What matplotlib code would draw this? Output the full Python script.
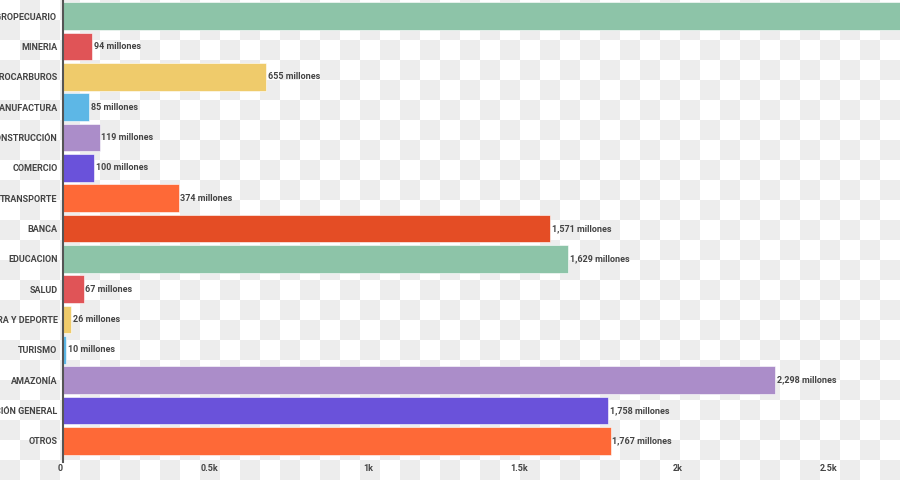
import numpy as np
import matplotlib
matplotlib.use("Agg")
import matplotlib.pyplot as plt

plt.rcParams['font.family'] = ['Roboto', 'DejaVu Sans']

# data (AGROPECUARIO runs off the right edge)
sectores = ["AGROPECUARIO", "MINERIA", "HIDROCARBUROS", "MANUFACTURA", "CONSTRUCCIÓN",
            "COMERCIO", "TRANSPORTE", "BANCA", "EDUCACION", "SALUD",
            "CULTURA Y DEPORTE", "TURISMO", "AMAZONÍA", "ADMINISTRACIÓN GENERAL", "OTROS"]
montos = [3100, 94, 655, 85, 119, 100, 374, 1571, 1629, 67, 26, 10, 2298, 1758, 1767]
colores = ["#8dc4a8", "#e05457", "#efcb6b", "#5db7e6", "#ab8dc9", "#6a52da", "#fe6937", "#e44d25",
           "#8dc4a8", "#e05457", "#efcb6b", "#5db7e6", "#ab8dc9", "#6a52da", "#fe6937"]
ticks = [0, 500, 1000, 1500, 2000, 2500]
tick_labels = ["0", "0.5k", "1k", "1.5k", "2k", "2.5k"]

fig = plt.figure(figsize=(9, 4.8), dpi=100)

# checkerboard background (transparent-png look)
bg = fig.add_axes([0, 0, 1, 1], zorder=0)
rows, cols = 24, 45
cb = (np.add.outer(np.arange(rows), np.arange(cols)) % 2).astype(float)
bg.imshow(cb, cmap=matplotlib.colors.ListedColormap(["#ffffff", "#ededed"]),
          extent=[0, 900, 480, 0], interpolation="nearest", aspect="auto")
bg.axis("off")

ax = fig.add_axes([63 / 900, 24 / 480, 837 / 900, 455 / 480], zorder=1)
ax.patch.set_alpha(0)
y = np.arange(len(sectores))
ax.barh(y, montos, height=0.92, color=colores, edgecolor="white", linewidth=0.4)
for yi, v in zip(y, montos):
    ax.text(v + 5, yi, f"{v:,} millones", va="center", ha="left", fontsize=6.5,
            color="#444444", fontweight="bold", clip_on=True)

ax.set_xlim(0, 2700)
ax.set_ylim(len(sectores) - 0.5, -0.5)
ax.set_yticks(y)
ax.set_yticklabels(sectores)
ax.set_xticks(ticks)
ax.set_xticklabels(tick_labels, ha="right")
ax.tick_params(axis="both", length=0, labelsize=6.5, labelcolor="#444444")
ax.tick_params(axis="y", pad=4)
ax.tick_params(axis="x", pad=6)
for lab in ax.get_yticklabels() + ax.get_xticklabels():
    lab.set_fontweight("bold")
for s in ["top", "right", "bottom"]:
    ax.spines[s].set_visible(False)
ax.spines["left"].set_color("#555555")
ax.spines["left"].set_linewidth(1.5)
ax.spines["left"].set_bounds(len(sectores) - 0.3, -0.5)

fig.savefig("out.png", dpi=100)
